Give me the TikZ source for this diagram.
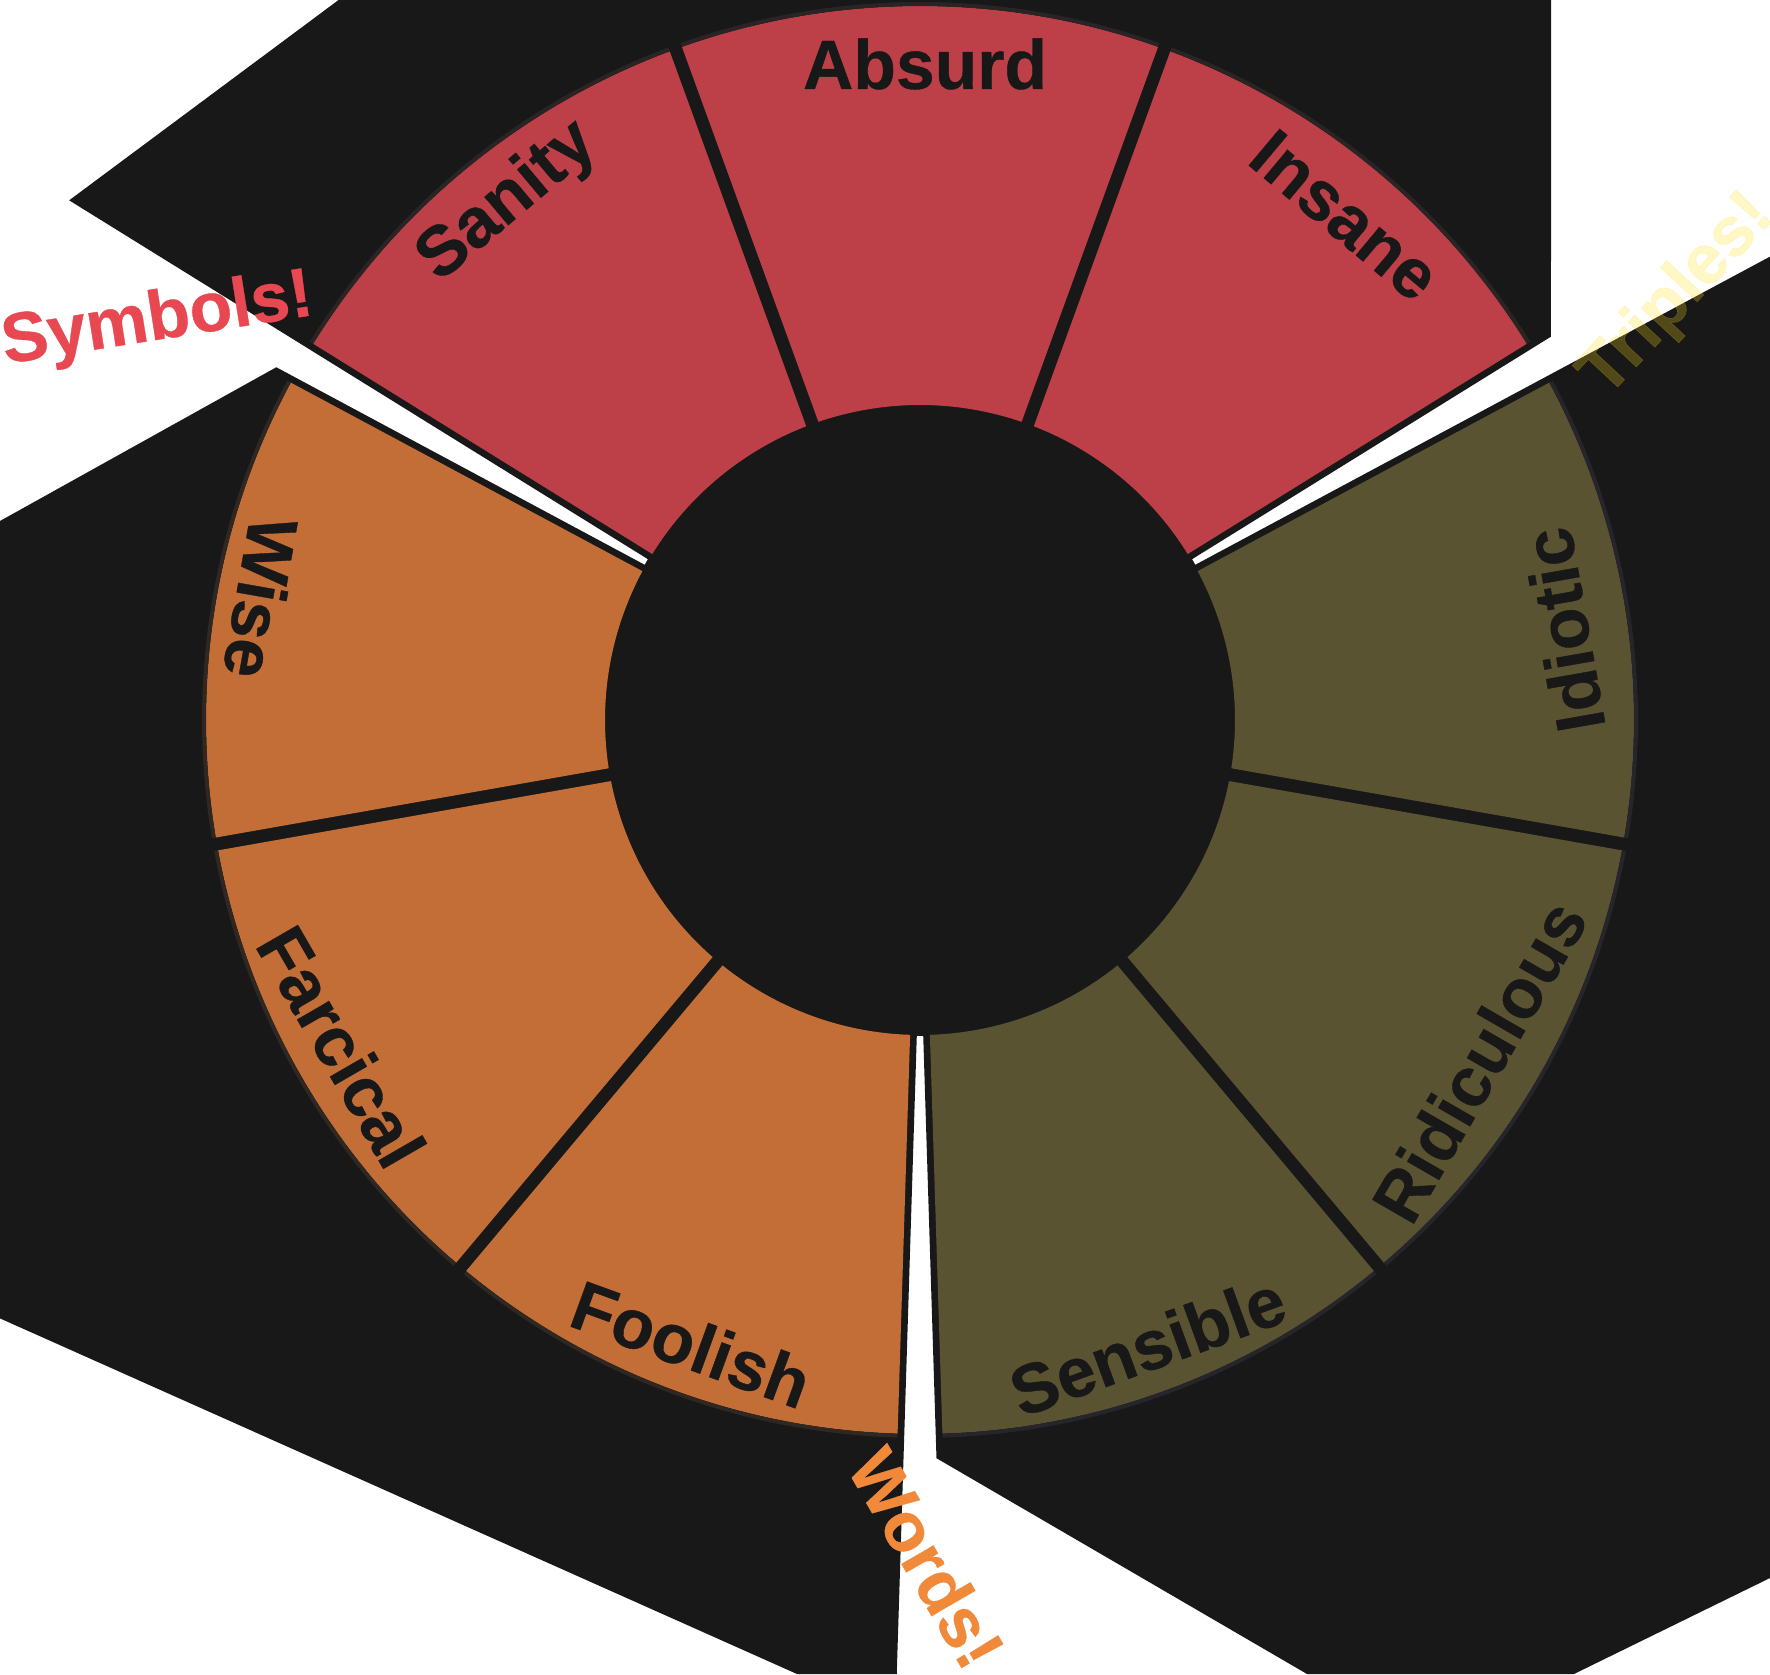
\documentclass[tikz,border=0pt]{standalone}
\usepackage{fontspec}
\setmainfont{Liberation Sans}
\newfontfamily\labfont[FakeBold=0.5]{Liberation Sans Bold}
\usetikzlibrary{calc}
\definecolor{bg}{HTML}{181818}
\definecolor{redseg}{RGB}{189,64,72}
\definecolor{orangeseg}{RGB}{194,110,54}
\definecolor{oliveseg}{RGB}{90,83,50}
\definecolor{redrim}{RGB}{43,36,37}
\definecolor{orangerim}{RGB}{46,39,34}
\definecolor{oliverim}{RGB}{38,37,43}
\definecolor{symcol}{RGB}{232,72,82}
\definecolor{wordcol}{RGB}{240,137,58}
\definecolor{tripcol}{RGB}{255,225,26}
\newcommand{\segfill}[5]{\fill[#1] ($(C)+(#2:714)$) arc[start angle=#2, end angle=#3, radius=714] -- ($(C)+(#4:315)$) arc[start angle=#4, end angle=#5, radius=315] -- cycle;}
\newcommand{\segrim}[3]{\draw[#1, line width=4pt] ($(C)+(#2:716)$) arc[start angle=#2, end angle=#3, radius=716];}
\begin{document}
\begin{tikzpicture}[x=1pt,y=1pt,
  lab/.style={font=\fontsize{69.7}{80}\labfont, text=bg, inner sep=0pt},
  outlab/.style={font=\fontsize{69.7}{80}\labfont, inner sep=0pt}]
\useasboundingbox (0,0) rectangle (1770,1674);
\fill[white] (0,0) rectangle (1770,1674);
\clip (0,0) rectangle (1770,1674);
\coordinate (C) at (920,954);
% black backgrounds
\fill[bg] ($(C)+(148.2:50)+(238.2:6.7)$) -- ($(C)+(148.2:997)+(238.2:6.7)$) -- (338.6,1674) -- (1551,1674) -- ($(C)+(31.8:738.3)+(-58.2:6.7)$) -- ($(C)+(31.8:50)+(-58.2:6.7)$) -- cycle;
\fill[bg] ($(C)+(151.8:50)+(61.8:6.7)$) -- ($(C)+(151.8:734)+(61.8:6.7)$) -- (0,1153) -- (0,355.6) -- (797,0) -- ($(C)+(268.2:954.3)+(358.2:6.7)$) -- ($(C)+(268.2:50)+(358.2:6.7)$) -- cycle;
\fill[bg] ($(C)+(271.8:50)+(181.8:6.7)$) -- ($(C)+(271.8:738.4)+(181.8:6.7)$) -- (1307,0) -- (1574,0) -- (1770,96) -- ($(C)+(28.2:968.1)+(118.2:6.7)$) -- ($(C)+(28.2:50)+(118.2:6.7)$) -- cycle;
\fill[bg] (C) circle[radius=316];
% segments
\segfill{redseg}{31.8}{69.4784}{68.8176}{31.8}
\segfill{redseg}{70.5216}{109.4784}{108.8176}{71.1824}
\segfill{redseg}{110.5216}{148.2}{148.2}{111.1824}
\segfill{orangeseg}{151.8}{189.4784}{188.8176}{151.8}
\segfill{orangeseg}{190.5216}{229.4784}{228.8176}{191.1824}
\segfill{orangeseg}{230.5216}{268.2}{268.2}{231.1824}
\segfill{oliveseg}{271.8}{309.4784}{308.8176}{271.8}
\segfill{oliveseg}{310.5216}{349.4784}{348.8176}{311.1824}
\segfill{oliveseg}{350.5216}{388.2}{388.2}{351.1824}
\segrim{redrim}{31.8}{69.4784}
\segrim{redrim}{70.5216}{109.4784}
\segrim{redrim}{110.5216}{148.2}
\segrim{orangerim}{151.8}{189.4784}
\segrim{orangerim}{190.5216}{229.4784}
\segrim{orangerim}{230.5216}{268.2}
\segrim{oliverim}{271.8}{309.4784}
\segrim{oliverim}{310.5216}{349.4784}
\segrim{oliverim}{350.5216}{388.2}
% segment labels
\node[lab] (absurd) at (925,1610) {Absurd};
\node[lab, rotate=40] (sanity) at (507.8,1472) {Sanity};
\node[lab, rotate=-40] (insane) at (1345,1458.6) {Insane};
\node[lab, rotate=-100] (wise) at (261,1076) {Wise};
\node[lab, rotate=-60] (farcical) at (341.5,627.4) {Farcical};
\node[lab, rotate=-20] (foolish) at (691.3,330) {Foolish};
\node[lab, rotate=20] (sensible) at (1147.4,328.5) {Sensible};
\node[lab, rotate=60] (ridiculous) at (1479,613) {Ridiculous};
\node[lab, rotate=100] (idiotic) at (1563.5,1044) {Idiotic};
% group labels
\node[outlab, text=symcol, rotate=9] (symbols) at (157.5,1352.5) {Symbols!};
\node[outlab, text=wordcol, rotate=-60] (words) at (926.8,116) {Words!};
\node[outlab, text=tripcol, text opacity=0.25, rotate=47] (triples) at (1678,1378) {Triples!};
\end{tikzpicture}
\end{document}
